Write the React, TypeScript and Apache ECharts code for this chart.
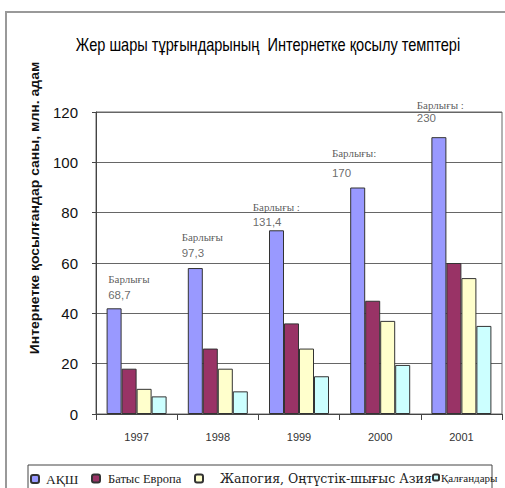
import React, { useEffect, useRef } from "react";
import * as echarts from "echarts";

const years = ["1997", "1998", "1999", "2000", "2001"];
const seriesNames = ["АҚШ", "Батыс Европа", "Жапогия, Оңтүстік-шығыс Азия", "Қалғандары"];
const usa = [42, 58, 73, 90, 110];
const westEurope = [18, 26, 36, 45, 60];
const japanAsia = [10, 18, 26, 37, 54];
const others = [7, 9, 15, 19.5, 35];
const totals = [68.7, 97.3, 131.4, 170, 230];
const totalWords = ["Барлығы", "Барлығы", "Барлығы :", "Барлығы:", "Барлығы :"];
// annotation anchors (in axis units)
const noteX = [0.15, 1.055, 1.93, 2.905, 3.95];
const noteWordY = [53.5, 70.4, 82.1, 103.6, 122.8];
const noteNumY = [47.3, 64.1, 76.4, 95.6, 117.5];
const yTicks = [0, 20, 40, 60, 80, 100, 120];

const colors = ["#9999FF", "#993366", "#FFFFCC", "#CCFFFF"];
const sans = "'Liberation Sans', Arial, sans-serif";
const serif = "'Liberation Serif', 'Times New Roman', serif";

export default function App() {
  const ref = useRef<HTMLDivElement>(null);
  useEffect(() => {
    const chart = echarts.init(ref.current!, null, { renderer: "svg" });
    const values = [usa, westEurope, japanAsia, others];
    const legendCfg = [
      { left: 30, size: 8, font: serif, fontSize: 13.5, pad: 2 },
      { left: 91, size: 8, font: serif, fontSize: 12.5, pad: 3 },
      { left: 194, size: 8, font: "'DejaVu Serif', serif", fontSize: 12.5, pad: 12 },
      { left: 432, size: 6, font: serif, fontSize: 11, pad: -3 },
    ];
    const option: any = {
      animation: false,
      backgroundColor: "#ffffff",
      grid: { left: 96, top: 112, right: 3, bottom: 74, show: true, borderColor: "#666", borderWidth: 1 },
      graphic: [
        { type: "rect", shape: { x: 6, y: 12, width: 540, height: 520 }, style: { fill: "none", stroke: "#999", lineWidth: 2 }, silent: true },
        { type: "rect", shape: { x: 28, y: 465, width: 464, height: 40 }, style: { fill: "#fff", stroke: "#444", lineWidth: 1 }, z: -1, silent: true },
        {
          type: "text",
          x: 268,
          y: 44,
          scaleX: 0.81,
          style: { text: "Жер шары тұрғындарының  Интернетке қосылу темптері", font: "18px " + sans, fill: "#000", align: "center", verticalAlign: "middle" },
        },
        {
          type: "text",
          x: 35,
          y: 208,
          rotation: Math.PI / 2,
          scaleX: 1.12,
          style: { text: "Интернетке қосылғандар саны, млн. адам", font: "bold 12.5px " + sans, fill: "#111", align: "center", verticalAlign: "middle" },
        },
      ],
      legend: seriesNames.map((n, i) => ({
        data: [n],
        left: legendCfg[i].left,
        top: 472,
        itemWidth: legendCfg[i].size,
        itemHeight: legendCfg[i].size,
        itemGap: 0,
        padding: 0,
        selectedMode: false,
        textStyle: { fontFamily: legendCfg[i].font, fontSize: legendCfg[i].fontSize, color: "#222", padding: [0, 0, 0, legendCfg[i].pad] },
      })),
      xAxis: [
        {
          type: "category",
          data: years,
          axisLine: { lineStyle: { color: "#444" } },
          axisTick: { show: true, length: 6, lineStyle: { color: "#444" } },
          axisLabel: { fontFamily: sans, fontSize: 11, color: "#333", margin: 17 },
        },
        { type: "value", min: 0, max: 5, show: false },
      ],
      yAxis: {
        type: "value",
        min: 0,
        max: 120,
        interval: 20,
        axisLine: { show: true, lineStyle: { color: "#444" } },
        axisTick: { show: true, length: 4, lineStyle: { color: "#444" } },
        axisLabel: { fontFamily: sans, fontSize: 15, color: "#111", margin: 18, formatter: (v: number) => (yTicks.includes(v) ? String(v) : "") },
        splitLine: { lineStyle: { color: "#666", width: 1 } },
      },
      series: [
        ...values.map((d, i) => ({
          name: seriesNames[i],
          type: "bar",
          data: d,
          barWidth: 15,
          barGap: "0%",
          itemStyle: { color: colors[i], borderColor: "#333", borderWidth: 1 },
        })),
        {
          type: "scatter",
          xAxisIndex: 1,
          symbolSize: 0,
          clip: false,
          silent: true,
          data: noteX.map((x, i) => [x, noteWordY[i]]),
          label: {
            show: true,
            position: [0, 0],
            align: "left",
            verticalAlign: "middle",
            formatter: (p: any) => totalWords[p.dataIndex],
            fontFamily: serif,
            fontSize: 11,
            color: "#333",
          },
        },
        {
          type: "scatter",
          xAxisIndex: 1,
          symbolSize: 0,
          clip: false,
          silent: true,
          data: noteX.map((x, i) => [x, noteNumY[i]]),
          label: {
            show: true,
            position: [0, 0],
            align: "left",
            verticalAlign: "middle",
            formatter: (p: any) => String(totals[p.dataIndex]).replace(".", ","),
            fontFamily: sans,
            fontSize: 11.5,
            color: "#444",
          },
        },
      ],
    };
    chart.setOption(option);
    return () => chart.dispose();
  }, []);
  return <div ref={ref} style={{ position: "fixed", left: 0, top: 0, width: 505, height: 488 }} />;
}
